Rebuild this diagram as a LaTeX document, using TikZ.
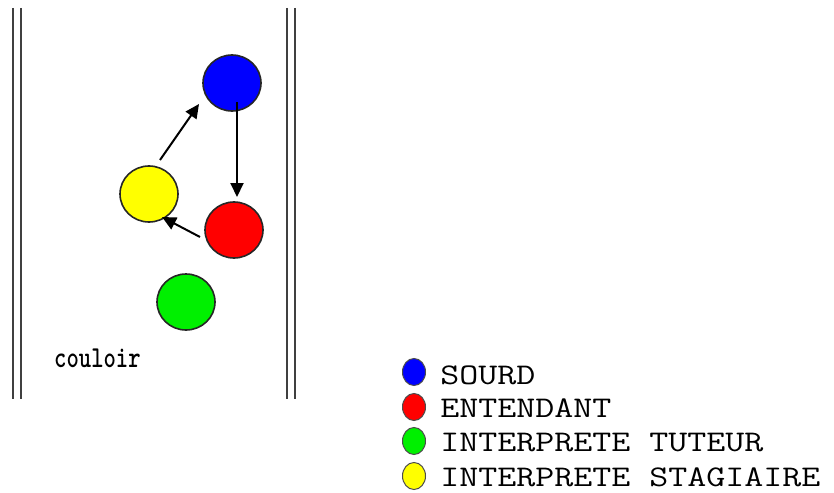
\documentclass[tikz,border=0pt]{standalone}
\usepackage{fontspec}
\usetikzlibrary{shapes.geometric,arrows.meta,calc}
\tikzset{
  person/.style={ellipse,draw=black!85,line width=1.6pt,minimum width=58pt,minimum height=56pt,inner sep=0pt},
  legdot/.style={ellipse,draw=black!70,line width=1pt,minimum width=23pt,minimum height=27pt,inner sep=0pt},
  wall/.style={draw=black!75,line width=2.8pt},
  flow/.style={draw=black,line width=2pt,-{Triangle[length=14pt,width=13pt]}},
  legtext/.style={anchor=base west,inner sep=0pt,xscale=1.23,font=\ttfamily\fontsize{30}{30}\selectfont},
}
\begin{document}
\begin{tikzpicture}[x=1pt,y=-1pt]
\useasboundingbox (0,0) rectangle (834,492);
% corridor walls
\coordinate (wl1t) at (13,8);  \coordinate (wl1b) at (13,399);
\coordinate (wl2t) at (21,8);  \coordinate (wl2b) at (21,399);
\coordinate (wr1t) at (287,8); \coordinate (wr1b) at (287,399);
\coordinate (wr2t) at (295,8); \coordinate (wr2b) at (295,399);
\draw[wall] (wl1t) -- (wl1b);
\draw[wall] (wl2t) -- (wl2b);
\draw[wall] (wr1t) -- (wr1b);
\draw[wall] (wr2t) -- (wr2b);
% people
\node[person,fill={rgb,255:red,0;green,0;blue,255}] (sourd) at (232,83) {};
\node[person,fill={rgb,255:red,255;green,0;blue,0}] (ent) at (234,230) {};
\node[person,fill={rgb,255:red,255;green,255;blue,0}] (stag) at (149,194) {};
\node[person,fill={rgb,255:red,0;green,240;blue,0}] (tut) at (186,302) {};
% arrows
\coordinate (a1s) at ($(stag)+(11,-34)$);
\coordinate (a1e) at ($(sourd)+(-33,21)$);
\coordinate (a2s) at ($(sourd)+(5,19)$);
\coordinate (a2e) at ($(ent)+(3,-33)$);
\coordinate (a3s) at ($(ent)+(-34,7)$);
\coordinate (a3e) at ($(stag)+(13,23)$);
\draw[flow] (a1s) -- (a1e);
\draw[flow] (a2s) -- (a2e);
\draw[flow] (a3s) -- (a3e);
% corridor label
\node[anchor=base west,inner sep=0pt,xscale=1.12,yscale=1.45,font=\ttfamily\bfseries\fontsize{21}{21}\selectfont] (couloir) at (54,367) {couloir};
% legend
\node[legdot,fill={rgb,255:red,0;green,0;blue,255}] (l1) at (414,372) {};
\node[legdot,fill={rgb,255:red,255;green,0;blue,0}] (l2) at (414,407) {};
\node[legdot,fill={rgb,255:red,0;green,240;blue,0}] (l3) at (414,441) {};
\node[legdot,fill={rgb,255:red,255;green,255;blue,0}] (l4) at (414,476) {};
\node[legtext] (t1) at (440,384) {SOURD};
\node[legtext] (t2) at (440,417) {ENTENDANT};
\node[legtext] (t3) at (440,451) {INTERPRETE TUTEUR};
\node[legtext] (t4) at (440,486) {INTERPRETE STAGIAIRE};
\end{tikzpicture}
\end{document}
